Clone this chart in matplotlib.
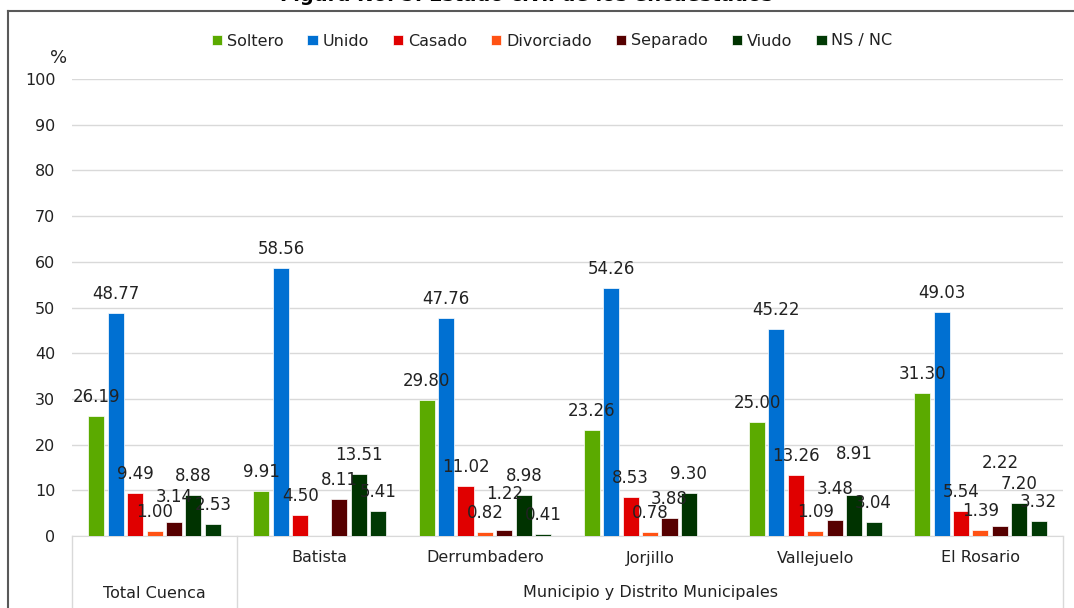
import matplotlib.pyplot as plt
from matplotlib.lines import Line2D
import numpy as np

# datos
grupos = ['Total Cuenca', 'Batista', 'Derrumbadero', 'Jorjillo', 'Vallejuelo', 'El Rosario']
series = ['Soltero', 'Unido', 'Casado', 'Divorciado', 'Separado', 'Viudo', 'NS / NC']
soltero = [26.19, 9.91, 29.80, 23.26, 25.00, 31.30]
unido = [48.77, 58.56, 47.76, 54.26, 45.22, 49.03]
casado = [9.49, 4.50, 11.02, 8.53, 13.26, 5.54]
divorciado = [1.00, None, 0.82, 0.78, 1.09, 1.39]
separado = [3.14, 8.11, 1.22, 3.88, 3.48, 2.22]
viudo = [8.88, 13.51, 8.98, 9.30, 8.91, 7.20]
nsnc = [2.53, 5.41, 0.41, None, 3.04, 3.32]
yticks = list(range(0, 101, 10))

valores = [soltero, unido, casado, divorciado, separado, viudo, nsnc]
colores = ['#5BAA00', '#0070D2', '#E00000', '#FF5214', '#560000', '#003300', '#013A05']

# etiquetas que en el original quedaron movidas hacia arriba (px extra)
extra = {(4, 0): 6, (4, 2): 17, (4, 4): 12, (5, 4): 22, (4, 5): 44}

plt.rcParams['font.family'] = ['DejaVu Sans']
fig = plt.figure(figsize=(10.74, 6.08), dpi=100)
ax = fig.add_axes([72/1074, 1-536/608, (1063-72)/1074, (536-79)/608])

paso = 0.1176
ancho = 0.097
x = np.arange(len(grupos))
for i, (nombre, vals, col) in enumerate(zip(series, valores, colores)):
    xs = x + (i - 3) * paso
    v = [0 if a is None else a for a in vals]
    ax.bar(xs, v, ancho, color=col, label=nombre, edgecolor='white', linewidth=0.5, zorder=3)
    for j, a in enumerate(vals):
        if a is None:
            continue
        off = (19 + extra.get((i, j), 0)) * 0.72
        ax.annotate(f'{a:.2f}', (xs[j], a), xytext=(0, off), textcoords='offset points',
                    ha='center', va='center', fontsize=12, color='#222222', zorder=5)

ax.set_xlim(-0.5, len(grupos) - 0.5)
ax.set_ylim(0, 100)
ax.set_yticks(yticks)
ax.yaxis.grid(True, color='#D9D9D9', linewidth=1)
ax.set_axisbelow(True)
ax.tick_params(axis='y', length=0, pad=12, labelsize=11.5, labelcolor='#222222')
ax.set_xticks([])
for s in ['left', 'right', 'top']:
    ax.spines[s].set_visible(False)
ax.spines['bottom'].set_color('#D9D9D9')

# eje de categorias en dos niveles
trans = ax.get_xaxis_transform()
for xb in [-0.5, 0.5, 5.5]:
    ax.add_line(Line2D([xb, xb], [0, -0.2], transform=trans, color='#D9D9D9',
                       linewidth=1, clip_on=False))
for j, g in enumerate(grupos):
    yy = -57/457 if j == 0 else -22/457
    ax.text(j, yy, g, transform=trans, ha='center', va='center', fontsize=11.5, color='#222222')
ax.text(3, -57/457, 'Municipio y Distrito Municipales', transform=trans, ha='center',
        va='center', fontsize=11.5, color='#222222')

ax.text(-0.58, 1 + 21/457, '%', transform=trans, ha='center', va='center',
        fontsize=13, color='#222222')

leg = fig.legend(loc='center', bbox_to_anchor=(0.514, 1-41/608), ncol=7, frameon=False,
                 handlelength=0.65, handleheight=0.65, handletextpad=0.3, columnspacing=1.5,
                 fontsize=11.5)
for t in leg.get_texts():
    t.set_color('#222222')

# marco del area del grafico
fig.add_artist(Line2D([8/1074, 8/1074], [0, 1-11/608], color='#595959', linewidth=1.5))
fig.add_artist(Line2D([8/1074, 1], [1-11/608, 1-11/608], color='#595959', linewidth=1.5))

# titulo cortado en el borde superior
fig.text(0.49, 1-1/608, 'Figura No. 5: Estado civil de los encuestados', ha='center',
         va='baseline', fontsize=14, fontweight='bold')

fig.savefig('out.png', dpi=100)
